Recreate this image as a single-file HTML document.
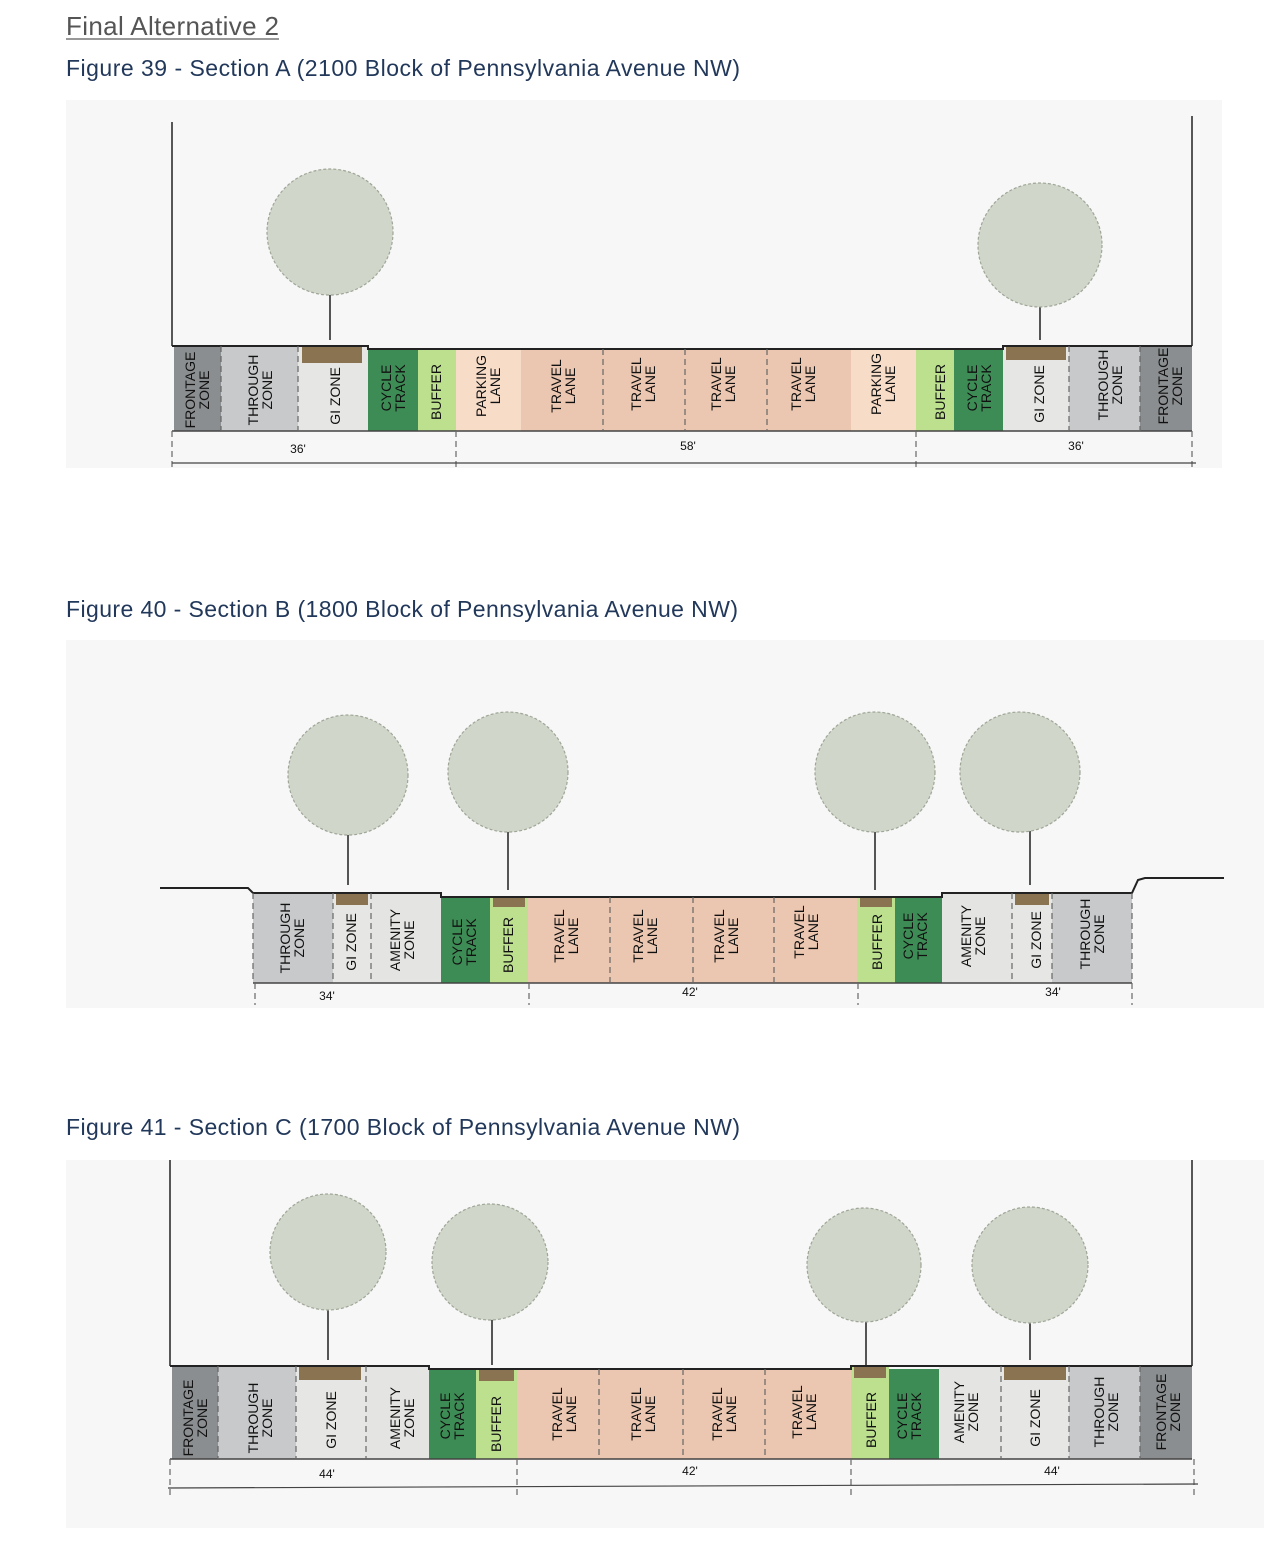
<!DOCTYPE html>
<html><head><meta charset="utf-8"><style>
html,body{margin:0;padding:0;background:#fff;}
svg{display:block}
.t{font-family:"Liberation Sans",sans-serif;font-size:14px;fill:#111}
.cap{font-family:"Liberation Sans",sans-serif;font-size:23px;fill:#22385a}
.d{font-family:"Liberation Sans",sans-serif;font-size:12px;fill:#111}
.sep{stroke:#666;stroke-width:1.2;stroke-dasharray:6,4}
.tree{fill:#d0d6c9;stroke:#9ea697;stroke-width:1.2;stroke-dasharray:3,2}
</style></head><body>
<svg width="1266" height="1542" viewBox="0 0 1266 1542" xmlns="http://www.w3.org/2000/svg">
<text x="66" y="35" font-family="Liberation Sans, sans-serif" font-size="26" fill="#555" textLength="213">Final Alternative 2</text>
<line x1="66" y1="39" x2="279" y2="39" stroke="#777" stroke-width="1.5"/>
<text class="cap" x="66" y="76" textLength="674">Figure 39 - Section A (2100 Block of Pennsylvania Avenue NW)</text>
<text class="cap" x="66" y="617" textLength="672">Figure 40 - Section B (1800 Block of Pennsylvania Avenue NW)</text>
<text class="cap" x="66" y="1135" textLength="674">Figure 41 - Section C (1700 Block of Pennsylvania Avenue NW)</text>

<rect x="66" y="100" width="1156" height="368" fill="#f7f7f7"/>
<rect x="66" y="640" width="1198" height="368" fill="#f7f7f7"/>
<rect x="66" y="1160" width="1198" height="368" fill="#f7f7f7"/>

<!-- ===== SECTION A ===== -->
<g>
<line x1="172" y1="122" x2="172" y2="346" stroke="#222" stroke-width="1.5"/>
<line x1="1192" y1="116" x2="1192" y2="346" stroke="#222" stroke-width="1.5"/>
<line x1="330" y1="260" x2="330" y2="340" stroke="#555" stroke-width="2"/>
<circle class="tree" cx="330" cy="232" r="63"/>
<line x1="1040" y1="270" x2="1040" y2="340" stroke="#555" stroke-width="2"/>
<circle class="tree" cx="1040" cy="245" r="62"/>
<rect x="174" y="346" width="47" height="85" fill="#8b8e90"/>
<rect x="221" y="346" width="77" height="85" fill="#c8c9ca"/>
<rect x="298" y="346" width="70" height="85" fill="#e6e7e4"/>
<rect x="302" y="346" width="60" height="17" fill="#8a7350"/>
<rect x="368" y="349" width="50" height="82" fill="#3e8c55"/>
<rect x="418" y="349" width="38" height="82" fill="#bde08f"/>
<rect x="456" y="349" width="65" height="82" fill="#f7dcc8"/>
<rect x="521" y="349" width="330" height="82" fill="#ebc6b0"/>
<rect x="851" y="349" width="65" height="82" fill="#f7dcc8"/>
<rect x="916" y="349" width="38" height="82" fill="#bde08f"/>
<rect x="954" y="349" width="49" height="82" fill="#3e8c55"/>
<rect x="1003" y="346" width="66" height="85" fill="#e6e7e4"/>
<rect x="1006" y="346" width="60" height="14" fill="#8a7350"/>
<rect x="1069" y="346" width="71" height="85" fill="#c8c9ca"/>
<rect x="1140" y="346" width="52" height="85" fill="#8b8e90"/>
<polyline points="172,346 368,346 368,349 1003,349 1003,346 1192,346" fill="none" stroke="#222" stroke-width="2"/>
<line x1="172" y1="431" x2="1192" y2="431" stroke="#444" stroke-width="1.5"/>
<g class="sep"><line x1="221" y1="346" x2="221" y2="431"/><line x1="298" y1="346" x2="298" y2="431"/><line x1="603" y1="349" x2="603" y2="431"/><line x1="685" y1="349" x2="685" y2="431"/><line x1="767" y1="349" x2="767" y2="431"/><line x1="1069" y1="346" x2="1069" y2="431"/><line x1="1140" y1="346" x2="1140" y2="431"/><line x1="172" y1="431" x2="172" y2="468"/><line x1="456" y1="431" x2="456" y2="468"/><line x1="916" y1="431" x2="916" y2="468"/><line x1="1192" y1="431" x2="1192" y2="468"/></g>
<line x1="172" y1="463" x2="1196" y2="463" stroke="#444" stroke-width="1.2"/>
<text class="d" x="298" y="453" text-anchor="middle">36'</text>
<text class="d" x="688" y="450" text-anchor="middle">58'</text>
<text class="d" x="1076" y="450" text-anchor="middle">36'</text>
<g class="t">
<text transform="translate(197,390) rotate(-90)" text-anchor="middle"><tspan x="0" dy="-2">FRONTAGE</tspan><tspan x="0" dy="14">ZONE</tspan></text>
<text transform="translate(260,390) rotate(-90)" text-anchor="middle"><tspan x="0" dy="-2">THROUGH</tspan><tspan x="0" dy="14">ZONE</tspan></text>
<text transform="translate(340,396) rotate(-90)" text-anchor="middle">GI ZONE</text>
<text transform="translate(393,388) rotate(-90)" text-anchor="middle"><tspan x="0" dy="-2">CYCLE</tspan><tspan x="0" dy="14">TRACK</tspan></text>
<text transform="translate(441,392) rotate(-90)" text-anchor="middle">BUFFER</text>
<text transform="translate(488,386) rotate(-90)" text-anchor="middle"><tspan x="0" dy="-2">PARKING</tspan><tspan x="0" dy="14">LANE</tspan></text>
<text transform="translate(563,386) rotate(-90)" text-anchor="middle"><tspan x="0" dy="-2">TRAVEL</tspan><tspan x="0" dy="14">LANE</tspan></text>
<text transform="translate(643,384) rotate(-90)" text-anchor="middle"><tspan x="0" dy="-2">TRAVEL</tspan><tspan x="0" dy="14">LANE</tspan></text>
<text transform="translate(723,384) rotate(-90)" text-anchor="middle"><tspan x="0" dy="-2">TRAVEL</tspan><tspan x="0" dy="14">LANE</tspan></text>
<text transform="translate(803,384) rotate(-90)" text-anchor="middle"><tspan x="0" dy="-2">TRAVEL</tspan><tspan x="0" dy="14">LANE</tspan></text>
<text transform="translate(883,384) rotate(-90)" text-anchor="middle"><tspan x="0" dy="-2">PARKING</tspan><tspan x="0" dy="14">LANE</tspan></text>
<text transform="translate(945,392) rotate(-90)" text-anchor="middle">BUFFER</text>
<text transform="translate(979,388) rotate(-90)" text-anchor="middle"><tspan x="0" dy="-2">CYCLE</tspan><tspan x="0" dy="14">TRACK</tspan></text>
<text transform="translate(1044,394) rotate(-90)" text-anchor="middle">GI ZONE</text>
<text transform="translate(1110,385) rotate(-90)" text-anchor="middle"><tspan x="0" dy="-2">THROUGH</tspan><tspan x="0" dy="14">ZONE</tspan></text>
<text transform="translate(1170,386) rotate(-90)" text-anchor="middle"><tspan x="0" dy="-2">FRONTAGE</tspan><tspan x="0" dy="14">ZONE</tspan></text>
</g>
</g>

<!-- ===== SECTION B ===== -->
<g>
<line x1="348" y1="800" x2="348" y2="885" stroke="#555" stroke-width="2"/>
<circle class="tree" cx="348" cy="775" r="60"/>
<line x1="508" y1="800" x2="508" y2="890" stroke="#555" stroke-width="2"/>
<circle class="tree" cx="508" cy="772" r="60"/>
<line x1="875" y1="800" x2="875" y2="890" stroke="#555" stroke-width="2"/>
<circle class="tree" cx="875" cy="772" r="60"/>
<line x1="1030" y1="800" x2="1030" y2="885" stroke="#555" stroke-width="2"/>
<circle class="tree" cx="1020" cy="772" r="60"/>
<rect x="253" y="893" width="80" height="90" fill="#c8c9ca"/>
<rect x="333" y="893" width="38" height="90" fill="#e6e7e4"/>
<rect x="336" y="893" width="32" height="12" fill="#8a7350"/>
<rect x="371" y="893" width="70" height="90" fill="#e4e5e2"/>
<rect x="441" y="897" width="49" height="86" fill="#3e8c55"/>
<rect x="490" y="897" width="38" height="86" fill="#bde08f"/>
<rect x="493" y="897" width="32" height="10" fill="#8a7350"/>
<rect x="528" y="897" width="329" height="86" fill="#ebc6b0"/>
<rect x="857" y="897" width="38" height="86" fill="#bde08f"/>
<rect x="860" y="897" width="32" height="10" fill="#8a7350"/>
<rect x="895" y="897" width="47" height="86" fill="#3e8c55"/>
<rect x="942" y="893" width="70" height="90" fill="#e4e5e2"/>
<rect x="1012" y="893" width="40" height="90" fill="#e6e7e4"/>
<rect x="1015" y="893" width="34" height="12" fill="#8a7350"/>
<rect x="1052" y="893" width="80" height="90" fill="#c8c9ca"/>
<polyline points="160,888 248,888 253,893 441,893 441,897 942,897 942,893 1132,893 1138,880 1145,878 1224,878" fill="none" stroke="#222" stroke-width="2"/>
<line x1="253" y1="983" x2="1132" y2="983" stroke="#444" stroke-width="1.5"/>
<g class="sep"><line x1="253" y1="893" x2="253" y2="983"/><line x1="333" y1="893" x2="333" y2="983"/><line x1="371" y1="893" x2="371" y2="983"/><line x1="610" y1="897" x2="610" y2="983"/><line x1="693" y1="897" x2="693" y2="983"/><line x1="774" y1="897" x2="774" y2="983"/><line x1="1012" y1="893" x2="1012" y2="983"/><line x1="1052" y1="893" x2="1052" y2="983"/><line x1="1132" y1="893" x2="1132" y2="983"/><line x1="255" y1="983" x2="255" y2="1005"/><line x1="529" y1="983" x2="529" y2="1005"/><line x1="858" y1="983" x2="858" y2="1005"/><line x1="1132" y1="983" x2="1132" y2="1005"/></g>
<text class="d" x="327" y="1000" text-anchor="middle">34'</text>
<text class="d" x="690" y="996" text-anchor="middle">42'</text>
<text class="d" x="1053" y="996" text-anchor="middle">34'</text>
<g class="t">
<text transform="translate(292,938) rotate(-90)" text-anchor="middle"><tspan x="0" dy="-2">THROUGH</tspan><tspan x="0" dy="14">ZONE</tspan></text>
<text transform="translate(356,942) rotate(-90)" text-anchor="middle">GI ZONE</text>
<text transform="translate(402,940) rotate(-90)" text-anchor="middle"><tspan x="0" dy="-2">AMENITY</tspan><tspan x="0" dy="14">ZONE</tspan></text>
<text transform="translate(464,942) rotate(-90)" text-anchor="middle"><tspan x="0" dy="-2">CYCLE</tspan><tspan x="0" dy="14">TRACK</tspan></text>
<text transform="translate(513,945) rotate(-90)" text-anchor="middle">BUFFER</text>
<text transform="translate(566,936) rotate(-90)" text-anchor="middle"><tspan x="0" dy="-2">TRAVEL</tspan><tspan x="0" dy="14">LANE</tspan></text>
<text transform="translate(645,936) rotate(-90)" text-anchor="middle"><tspan x="0" dy="-2">TRAVEL</tspan><tspan x="0" dy="14">LANE</tspan></text>
<text transform="translate(726,936) rotate(-90)" text-anchor="middle"><tspan x="0" dy="-2">TRAVEL</tspan><tspan x="0" dy="14">LANE</tspan></text>
<text transform="translate(806,932) rotate(-90)" text-anchor="middle"><tspan x="0" dy="-2">TRAVEL</tspan><tspan x="0" dy="14">LANE</tspan></text>
<text transform="translate(882,942) rotate(-90)" text-anchor="middle">BUFFER</text>
<text transform="translate(915,936) rotate(-90)" text-anchor="middle"><tspan x="0" dy="-2">CYCLE</tspan><tspan x="0" dy="14">TRACK</tspan></text>
<text transform="translate(973,936) rotate(-90)" text-anchor="middle"><tspan x="0" dy="-2">AMENITY</tspan><tspan x="0" dy="14">ZONE</tspan></text>
<text transform="translate(1041,940) rotate(-90)" text-anchor="middle">GI ZONE</text>
<text transform="translate(1092,934) rotate(-90)" text-anchor="middle"><tspan x="0" dy="-2">THROUGH</tspan><tspan x="0" dy="14">ZONE</tspan></text>
</g>
</g>

<!-- ===== SECTION C ===== -->
<g>
<line x1="170" y1="1160" x2="170" y2="1366" stroke="#222" stroke-width="1.5"/>
<line x1="1192" y1="1160" x2="1192" y2="1366" stroke="#222" stroke-width="1.5"/>
<line x1="328" y1="1280" x2="328" y2="1360" stroke="#555" stroke-width="2"/>
<circle class="tree" cx="328" cy="1252" r="58"/>
<line x1="492" y1="1290" x2="492" y2="1365" stroke="#555" stroke-width="2"/>
<circle class="tree" cx="490" cy="1262" r="58"/>
<line x1="866" y1="1290" x2="866" y2="1365" stroke="#555" stroke-width="2"/>
<circle class="tree" cx="864" cy="1265" r="57"/>
<line x1="1030" y1="1290" x2="1030" y2="1360" stroke="#555" stroke-width="2"/>
<circle class="tree" cx="1030" cy="1265" r="58"/>
<rect x="172" y="1366" width="46" height="93" fill="#8b8e90"/>
<rect x="218" y="1366" width="78" height="93" fill="#c8c9ca"/>
<rect x="296" y="1366" width="70" height="93" fill="#e6e7e4"/>
<rect x="299" y="1366" width="62" height="14" fill="#8a7350"/>
<rect x="366" y="1366" width="63" height="93" fill="#e4e5e2"/>
<rect x="429" y="1369" width="47" height="90" fill="#3e8c55"/>
<rect x="476" y="1369" width="41" height="90" fill="#bde08f"/>
<rect x="479" y="1369" width="35" height="12" fill="#8a7350"/>
<rect x="517" y="1369" width="334" height="90" fill="#ebc6b0"/>
<rect x="851" y="1366" width="38" height="93" fill="#bde08f"/>
<rect x="854" y="1366" width="32" height="12" fill="#8a7350"/>
<rect x="889" y="1369" width="50" height="90" fill="#3e8c55"/>
<rect x="939" y="1366" width="62" height="93" fill="#e4e5e2"/>
<rect x="1001" y="1366" width="68" height="93" fill="#e6e7e4"/>
<rect x="1004" y="1366" width="62" height="14" fill="#8a7350"/>
<rect x="1069" y="1366" width="71" height="93" fill="#c8c9ca"/>
<rect x="1140" y="1366" width="52" height="93" fill="#8b8e90"/>
<polyline points="170,1366 429,1366 429,1369 851,1369 851,1366 1192,1366" fill="none" stroke="#222" stroke-width="2"/>
<line x1="170" y1="1459" x2="1192" y2="1459" stroke="#444" stroke-width="1.5"/>
<g class="sep"><line x1="218" y1="1366" x2="218" y2="1459"/><line x1="296" y1="1366" x2="296" y2="1459"/><line x1="366" y1="1366" x2="366" y2="1459"/><line x1="599" y1="1369" x2="599" y2="1459"/><line x1="683" y1="1369" x2="683" y2="1459"/><line x1="765" y1="1369" x2="765" y2="1459"/><line x1="1001" y1="1366" x2="1001" y2="1459"/><line x1="1069" y1="1366" x2="1069" y2="1459"/><line x1="1140" y1="1366" x2="1140" y2="1459"/><line x1="170" y1="1459" x2="170" y2="1495"/><line x1="517" y1="1459" x2="517" y2="1495"/><line x1="851" y1="1459" x2="851" y2="1495"/><line x1="1194" y1="1459" x2="1194" y2="1495"/></g>
<line x1="168" y1="1488" x2="1198" y2="1484" stroke="#444" stroke-width="1.2"/>
<text class="d" x="327" y="1478" text-anchor="middle">44'</text>
<text class="d" x="690" y="1475" text-anchor="middle">42'</text>
<text class="d" x="1052" y="1475" text-anchor="middle">44'</text>
<g class="t">
<text transform="translate(195,1418) rotate(-90)" text-anchor="middle"><tspan x="0" dy="-2">FRONTAGE</tspan><tspan x="0" dy="14">ZONE</tspan></text>
<text transform="translate(260,1418) rotate(-90)" text-anchor="middle"><tspan x="0" dy="-2">THROUGH</tspan><tspan x="0" dy="14">ZONE</tspan></text>
<text transform="translate(336,1420) rotate(-90)" text-anchor="middle">GI ZONE</text>
<text transform="translate(402,1418) rotate(-90)" text-anchor="middle"><tspan x="0" dy="-2">AMENITY</tspan><tspan x="0" dy="14">ZONE</tspan></text>
<text transform="translate(452,1416) rotate(-90)" text-anchor="middle"><tspan x="0" dy="-2">CYCLE</tspan><tspan x="0" dy="14">TRACK</tspan></text>
<text transform="translate(501,1424) rotate(-90)" text-anchor="middle">BUFFER</text>
<text transform="translate(564,1414) rotate(-90)" text-anchor="middle"><tspan x="0" dy="-2">TRAVEL</tspan><tspan x="0" dy="14">LANE</tspan></text>
<text transform="translate(643,1414) rotate(-90)" text-anchor="middle"><tspan x="0" dy="-2">TRAVEL</tspan><tspan x="0" dy="14">LANE</tspan></text>
<text transform="translate(724,1414) rotate(-90)" text-anchor="middle"><tspan x="0" dy="-2">TRAVEL</tspan><tspan x="0" dy="14">LANE</tspan></text>
<text transform="translate(804,1412) rotate(-90)" text-anchor="middle"><tspan x="0" dy="-2">TRAVEL</tspan><tspan x="0" dy="14">LANE</tspan></text>
<text transform="translate(876,1420) rotate(-90)" text-anchor="middle">BUFFER</text>
<text transform="translate(909,1416) rotate(-90)" text-anchor="middle"><tspan x="0" dy="-2">CYCLE</tspan><tspan x="0" dy="14">TRACK</tspan></text>
<text transform="translate(966,1412) rotate(-90)" text-anchor="middle"><tspan x="0" dy="-2">AMENITY</tspan><tspan x="0" dy="14">ZONE</tspan></text>
<text transform="translate(1040,1418) rotate(-90)" text-anchor="middle">GI ZONE</text>
<text transform="translate(1106,1412) rotate(-90)" text-anchor="middle"><tspan x="0" dy="-2">THROUGH</tspan><tspan x="0" dy="14">ZONE</tspan></text>
<text transform="translate(1168,1412) rotate(-90)" text-anchor="middle"><tspan x="0" dy="-2">FRONTAGE</tspan><tspan x="0" dy="14">ZONE</tspan></text>
</g>
</g>
</svg>
</body></html>
